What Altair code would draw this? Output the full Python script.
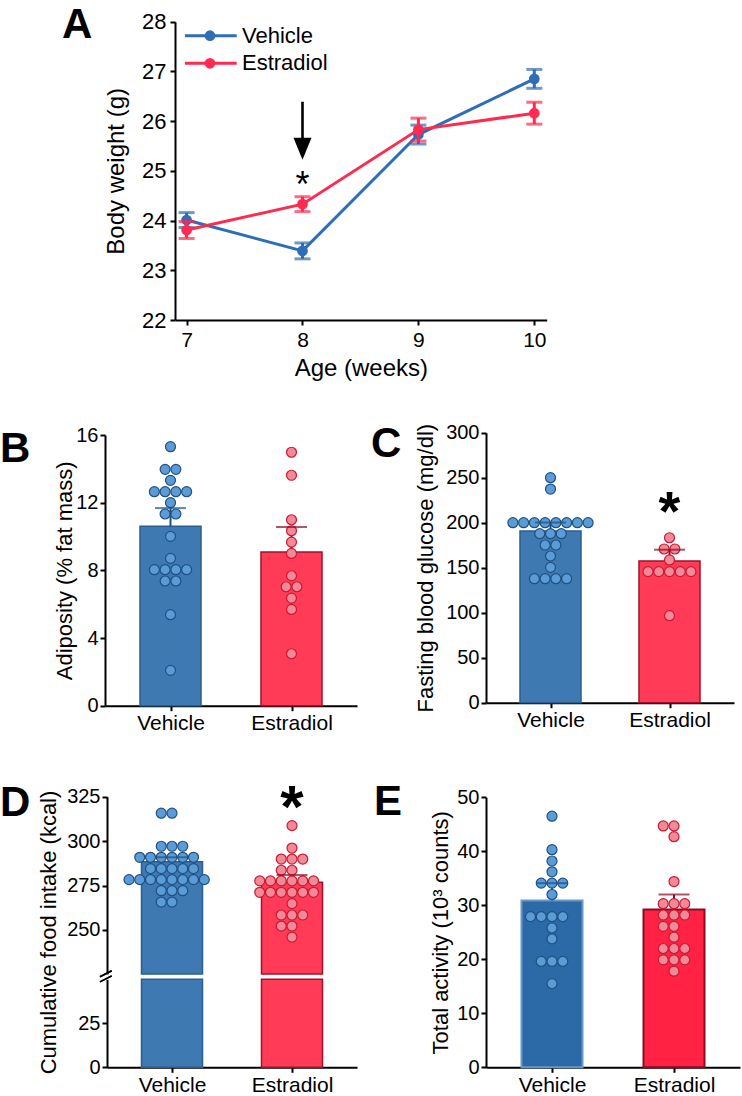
import altair as alt
import pandas as pd

FONT = "Liberation Sans"
W, H = 742, 1096
OX, OY = 0, 0  # page position of the drawing origin

GROUPS = ["Vehicle", "Estradiol"]

# ---- A: body weight over time (mean, SEM) ----
WEEKS = [7, 8, 9, 10]
BW_VEH = [24.01, 23.39, 25.73, 26.85]
BW_VEH_SEM = [0.15, 0.16, 0.19, 0.19]
BW_E2 = [23.81, 24.33, 25.83, 26.16]
BW_E2_SEM = [0.17, 0.15, 0.23, 0.22]
ARROW_WEEK = 8
ARROW_TOP, ARROW_BASE, ARROW_HEAD = 26.39, 25.655, 25.444
STAR_A = 24.856

# ---- B: adiposity (% fat mass) ----
ADIP_VEH = [15.31, 13.97, 13.97, 13.32, 12.65, 12.65, 12.65, 12.65, 12.0, 11.33, 11.33,
            10.01, 8.71, 8.04, 8.04, 8.04, 8.04, 7.37, 7.37, 5.38, 2.09]
ADIP_E2 = [14.98, 13.62, 10.99, 10.34, 9.67, 9.0, 7.68, 7.03, 7.03, 6.36, 5.69, 3.07]
ADIP_MEAN = [10.6, 9.08]
ADIP_SEM = [1.08, 1.48]

# ---- C: fasting blood glucose (mg/dl) ----
GLU_VEH = [250.0, 237.4, 200.0, 200.0, 200.0, 200.0, 200.0, 200.0, 200.0, 200.0,
           187.8, 187.8, 187.8, 175.2, 175.2, 163.0, 150.4, 137.8, 137.8, 137.8, 137.8]
GLU_E2 = [183.3, 170.8, 170.8, 158.6, 145.6, 145.6, 145.6, 145.6, 145.6, 96.7]
GLU_MEAN = [190.8, 157.4]
GLU_SEM = [9.4, 12.6]
STAR_C = 223.3

# ---- D: cumulative food intake (kcal), broken axis ----
FOOD_VEH = [315.7, 315.7, 297.1, 297.1, 297.1,
            290.9, 290.9, 290.9, 290.9, 290.9, 290.9,
            284.5, 284.5, 284.5, 284.5, 284.5,
            278.3, 278.3, 278.3, 278.3, 278.3, 278.3, 278.3, 278.3,
            272.1, 272.1, 272.1, 265.7, 265.7]
FOOD_E2 = [308.7, 296.1, 289.9, 289.9, 289.9, 283.6, 283.6,
           277.6, 277.6, 277.6, 277.6, 277.6, 277.6,
           271.2, 271.2, 271.2, 271.2, 271.2, 271.2,
           264.8, 258.4, 258.4, 258.4, 252.2, 252.2, 246.0]
FOOD_MEAN = [288.4, 276.8]
FOOD_SEM = [2.5, 4.1]
FOOD_LOW_TOP = 50.0     # top of the lower axis segment
FOOD_HIGH_BOTTOM = 225.2  # bottom of the upper axis segment
STAR_D = 325.0

# ---- E: total activity (10^3 counts) ----
ACT_VEH = [46.5, 40.3, 38.2, 36.2, 34.1, 34.1, 34.1, 32.0, 27.9, 27.9, 27.9, 27.9,
           25.8, 23.8, 19.6, 19.6, 19.6, 15.5]
ACT_E2 = [44.7, 44.7, 42.7, 34.4, 30.3, 30.3, 30.3, 28.2, 28.2, 28.2, 26.1, 26.1,
          24.1, 22.0, 22.0, 22.0, 19.9, 19.9, 19.9, 17.8]
ACT_MEAN = [30.9, 29.2]
ACT_SEM = [3.2, 2.8]

# ---- colours ----
LINE_COLORS = ["#2f6db4", "#ff2a50"]
BAR_FILL = ["#3e79b2", "#ff3b57"]
BAR_EDGE = ["#2a5e8d", "#a3102e"]
BAR_FILL_E = ["#2b69a7", "#ff2243"]
BAR_EDGE_E = ["#6a98c4", "#8c0a22"]
DOT_FILL = ["#5b9bd6", "#ef8a96"]
DOT_EDGE = ["#1f5183", "#cc1833"]
ERR_COLORS = ["#1f4f80", "#8c0a22"]

DOT_STEP = 11.2  # horizontal spacing of tied dots, px


def px(x):
    return x - OX


def py(y):
    return y - OY


def y_axis(title, values, x_at, lab_size, tit_size, title_x, lab_pad=2, title_y=None):
    kw = dict(values=values, orient="left", offset=OX - x_at,
              labelFontSize=lab_size, labelPadding=lab_pad, title=title)
    if title is not None:
        # title_x: page x of the title's baseline side
        kw.update(titleFontSize=tit_size, titleX=title_x - x_at)
    if title_y is not None:
        kw["titleY"] = py(title_y)
    return alt.Axis(**kw)


def x_axis(y_at, values, lab_size, lab_pad, label_expr=None, title=None,
           tit_size=None, title_pad=None):
    kw = dict(orient="bottom", offset=py(y_at) - H, values=values,
              labelFontSize=lab_size, labelPadding=lab_pad, title=title)
    if label_expr is not None:
        kw["labelExpr"] = label_expr
    if title is not None:
        kw.update(titleFontSize=tit_size, titlePadding=title_pad)
    return alt.Axis(**kw)


GROUP_LABELS = f"datum.value == 0 ? '{GROUPS[0]}' : '{GROUPS[1]}'"


def swarm(groups_values, even_left):
    rows = []
    for gi, vals in enumerate(groups_values):
        counts = {}
        for v in vals:
            counts[v] = counts.get(v, 0) + 1
        for v, n in counts.items():
            for k in range(n):
                slot = k - (n // 2) if even_left else k - (n - 1) / 2
                rows.append({"gi": gi, "group": GROUPS[gi], "value": v, "slot": slot})
    return pd.DataFrame(rows)


def bar_panel(means, sems, base, xr, yr, ydom, yticks, ytitle, title_x,
              fills, edges, edge_w, pts=None, even_left=False, with_x=True,
              with_err=True, title_y=None):
    xs = alt.Scale(domain=[-0.5, 1.5], range=[px(xr[0]), px(xr[1])], nice=False, zero=False)
    ys = alt.Scale(domain=ydom, range=[py(yr[1]), py(yr[0])], nice=False, zero=False)
    if with_x:
        ax_x = x_axis(yr[1], [0, 1], 21, 2, label_expr=GROUP_LABELS)
    else:
        ax_x = None
    ax_y = y_axis(ytitle, yticks, xr[0], 20, 22, title_x, title_y=title_y)

    bars_df = pd.DataFrame({"gi": [0, 1], "group": GROUPS, "mean": means,
                            "top": [m + s for m, s in zip(means, sems)],
                            "base": [base, base]})
    X = alt.X("gi:Q", scale=xs, axis=ax_x)
    layers = [
        alt.Chart(bars_df).mark_bar(size=61, strokeWidth=edge_w).encode(
            x=X,
            y=alt.Y("mean:Q", scale=ys, axis=ax_y),
            y2="base:Q",
            fill=alt.Fill("group:N", scale=alt.Scale(domain=GROUPS, range=fills), legend=None),
            stroke=alt.Stroke("group:N", scale=alt.Scale(domain=GROUPS, range=edges), legend=None),
        )
    ]
    err_color = alt.Color("group:N", scale=alt.Scale(domain=GROUPS, range=ERR_COLORS), legend=None)
    if with_err:
        layers.append(
            alt.Chart(bars_df).mark_rule(strokeWidth=2).encode(
                x=X, y=alt.Y("mean:Q", scale=ys, axis=ax_y), y2="top:Q", color=err_color)
        )
    if pts is not None:
        ppu = (xr[1] - xr[0]) / 2.0
        dots = swarm(pts, even_left)
        dots["xpos"] = dots["gi"] + dots["slot"] * DOT_STEP / ppu
        layers.append(
            alt.Chart(dots).mark_point(shape="circle", filled=True, size=100, strokeWidth=1.2,
                                       opacity=1).encode(
                x=alt.X("xpos:Q", scale=xs, axis=ax_x),
                y=alt.Y("value:Q", scale=ys, axis=ax_y),
                fill=alt.Fill("group:N", scale=alt.Scale(domain=GROUPS, range=DOT_FILL), legend=None),
                stroke=alt.Stroke("group:N", scale=alt.Scale(domain=GROUPS, range=DOT_EDGE), legend=None),
            )
        )
    if with_err:
        layers.append(
            alt.Chart(bars_df).mark_tick(orient="horizontal", size=31, thickness=2).encode(
                x=X, y=alt.Y("top:Q", scale=ys, axis=ax_y), color=err_color)
        )
    return layers, xs, ys, ax_x, ax_y


def star(xs, ys, ax_x, ax_y, gi, yval, size, bold, dy):
    d = pd.DataFrame({"gi": [gi], "y": [yval]})
    return alt.Chart(d).mark_text(text="*", fontSize=size, fontWeight="bold" if bold else "normal",
                                  align="center", baseline="alphabetic", dy=dy,
                                  color="black").encode(
        x=alt.X("gi:Q", scale=xs, axis=ax_x), y=alt.Y("y:Q", scale=ys, axis=ax_y))


# ---------------- Panel A ----------------
xsA = alt.Scale(domain=[6.9, 10.107], range=[px(175), px(546.7)], nice=False, zero=False)
ysA = alt.Scale(domain=[22, 28], range=[py(320), py(21.7)], nice=False, zero=False)
axA_x = x_axis(320, WEEKS, 21, 4, title="Age (weeks)", tit_size=24, title_pad=6)
axA_y = y_axis("Body weight (g)", [22, 23, 24, 25, 26, 27, 28], 175, 22, 24, 128.6, lab_pad=4)
XA = alt.X("week:Q", scale=xsA, axis=axA_x)

a_layers = []
for gi, (vals, sems) in enumerate([(BW_VEH, BW_VEH_SEM), (BW_E2, BW_E2_SEM)]):
    c = LINE_COLORS[gi]
    d = pd.DataFrame({"week": WEEKS, "bw": vals,
                      "lo": [v - s for v, s in zip(vals, sems)],
                      "hi": [v + s for v, s in zip(vals, sems)]})
    base = alt.Chart(d)
    a_layers += [
        base.mark_line(strokeWidth=3, color=c).encode(x=XA, y=alt.Y("bw:Q", scale=ysA, axis=axA_y)),
        base.mark_rule(strokeWidth=3, color=c).encode(x=XA, y=alt.Y("lo:Q", scale=ysA, axis=axA_y), y2="hi:Q"),
        base.mark_tick(orient="horizontal", size=16, thickness=3, color=c).encode(
            x=XA, y=alt.Y("lo:Q", scale=ysA, axis=axA_y)),
        base.mark_tick(orient="horizontal", size=16, thickness=3, color=c).encode(
            x=XA, y=alt.Y("hi:Q", scale=ysA, axis=axA_y)),
        base.mark_point(shape="circle", filled=True, size=115, opacity=1, color=c).encode(
            x=XA, y=alt.Y("bw:Q", scale=ysA, axis=axA_y)),
    ]

arrow_df = pd.DataFrame({"week": [ARROW_WEEK], "top": [ARROW_TOP], "base": [ARROW_BASE],
                         "head": [ARROW_HEAD], "star": [STAR_A]})
arrow = alt.Chart(arrow_df)
a_layers += [
    arrow.mark_rule(strokeWidth=2.6, color="black").encode(
        x=XA, y=alt.Y("top:Q", scale=ysA, axis=axA_y), y2="base:Q"),
    arrow.mark_point(shape="M -0.45 -0.55 L 0.45 -0.55 L 0 0.55 Z", filled=True, size=1600,
                     opacity=1, color="black").encode(
        x=XA, y=alt.Y("head:Q", scale=ysA, axis=axA_y)),
    arrow.mark_text(text="*", fontSize=36, align="center", baseline="alphabetic", dy=19,
                    color="black").encode(x=XA, y=alt.Y("star:Q", scale=ysA, axis=axA_y)),
]
panel_a = alt.layer(*a_layers)

# legend of panel A
leg_df = pd.DataFrame({"group": GROUPS, "row": [0, 1]})
LY = alt.Y("row:Q", scale=alt.Scale(domain=[0, 1], range=[py(35.7), py(63.3)]), axis=None)
LC = alt.Color("group:N", scale=alt.Scale(domain=GROUPS, range=LINE_COLORS), legend=None)
leg = alt.Chart(leg_df)
legend_a = alt.layer(
    leg.mark_rule(strokeWidth=3).encode(x=alt.value(px(185)), x2=alt.value(px(236.7)), y=LY, color=LC),
    leg.mark_point(shape="circle", filled=True, size=115, opacity=1).encode(x=alt.value(px(210)), y=LY, color=LC),
    leg.mark_text(align="left", baseline="middle", fontSize=22, color="black").encode(
        x=alt.value(px(242)), y=LY, text="group:N"),
)

# ---------------- Panels B-E ----------------
lb, xsB, ysB, axBx, axBy = bar_panel(ADIP_MEAN, ADIP_SEM, 0, (105, 357), (435, 705.7), [0, 16],
                                     [0, 4, 8, 12, 16], "Adiposity (% fat mass)", 76.4,
                                     BAR_FILL, BAR_EDGE, 1.5, pts=[ADIP_VEH, ADIP_E2])
panel_b = alt.layer(*lb).resolve_scale(fill="independent", stroke="independent")

lc, xsC, ysC, axCx, axCy = bar_panel(GLU_MEAN, GLU_SEM, 0, (486, 734), (432.7, 702.7), [0, 300],
                                     [0, 50, 100, 150, 200, 250, 300],
                                     "Fasting blood glucose (mg/dl)", 437.7,
                                     BAR_FILL, BAR_EDGE, 1.5, pts=[GLU_VEH, GLU_E2])
lc.append(star(xsC, ysC, axCx, axCy, 1, STAR_C, 56, True, 28))
panel_c = alt.layer(*lc).resolve_scale(fill="independent", stroke="independent")

ld, xsD, ysD, axDx, axDy = bar_panel(FOOD_MEAN, FOOD_SEM, FOOD_HIGH_BOTTOM, (107, 357), (796.7, 974),
                                     [FOOD_HIGH_BOTTOM, 325], [250, 275, 300, 325],
                                     "Cumulative food intake (kcal)", 60.5,
                                     BAR_FILL, BAR_EDGE, 1.5, pts=[FOOD_VEH, FOOD_E2],
                                     even_left=True, with_x=False, title_y=932)
ld.append(star(xsD, ysD, axDx, axDy, 1, STAR_D, 60, True, 30))
panel_d_hi = alt.layer(*ld).resolve_scale(fill="independent", stroke="independent")

ld2, _, _, _, _ = bar_panel([FOOD_LOW_TOP, FOOD_LOW_TOP], [0, 0], 0, (107, 357), (979.3, 1067.3),
                            [0, FOOD_LOW_TOP], [0, 25], None, 0,
                            BAR_FILL, BAR_EDGE, 1.5, with_err=False)
panel_d_lo = alt.layer(*ld2).resolve_scale(fill="independent", stroke="independent")

le, _, _, _, _ = bar_panel(ACT_MEAN, ACT_SEM, 0, (486, 740), (797.3, 1067.3), [0, 50],
                           [0, 10, 20, 30, 40, 50], "Total activity (10³ counts)", 452.2,
                           BAR_FILL_E, BAR_EDGE_E, 2, pts=[ACT_VEH, ACT_E2], even_left=True)
panel_e = alt.layer(*le).resolve_scale(fill="independent", stroke="independent")

# axis-break marks on the food-intake axis
breaks = alt.layer(
    alt.Chart(leg_df).mark_rule(strokeWidth=1.6, color="black").encode(
        x=alt.value(px(100)), x2=alt.value(px(111.7)), y=alt.value(py(976.7)), y2=alt.value(py(970.7))),
    alt.Chart(leg_df).mark_rule(strokeWidth=1.6, color="black").encode(
        x=alt.value(px(100)), x2=alt.value(px(111.7)), y=alt.value(py(981.9)), y2=alt.value(py(975.9))),
)

# panel letters
LETTERS = ["A", "B", "C", "D", "E"]
LETTER_X = [62, 0, 371, 0, 374]
LETTER_Y = [38, 462, 457, 816, 815]
letters_df = pd.DataFrame({"label": LETTERS, "lx": [px(v) for v in LETTER_X],
                           "ly": [py(v) for v in LETTER_Y]})
letters = alt.Chart(letters_df).mark_text(fontSize=42, fontWeight="bold", align="left",
                                          baseline="alphabetic", color="black").encode(
    x=alt.X("lx:Q", scale=None, axis=None), y=alt.Y("ly:Q", scale=None, axis=None), text="label:N")

chart = alt.layer(
    panel_a, legend_a, panel_b, panel_c, panel_d_hi, panel_d_lo, panel_e, breaks, letters
).resolve_scale(
    x="independent", y="independent", color="independent", fill="independent", stroke="independent"
).properties(
    width=W, height=H, autosize=alt.AutoSizeParams(type="none"), padding=0
).configure(
    font=FONT
).configure_view(
    stroke=None
).configure_axis(
    grid=False, domainColor="black", tickColor="black", labelColor="black", titleColor="black",
    domainWidth=2, tickWidth=2, tickSize=5, labelFlush=False, labelOverlap=False,
    titleFontWeight="normal", labelFont=FONT, titleFont=FONT
)

chart.save("out.html", embed_options={"renderer": "svg", "actions": False})
